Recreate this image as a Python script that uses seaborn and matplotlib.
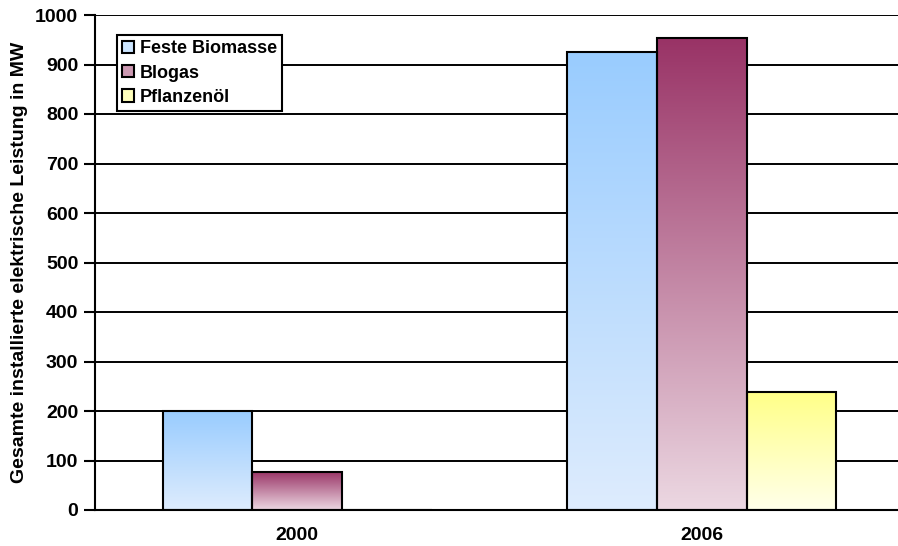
import numpy as np
import pandas as pd
import matplotlib
matplotlib.use("Agg")
import matplotlib.pyplot as plt
import matplotlib.patches as mpatches
from matplotlib.colors import to_rgba
import seaborn as sns

years = ["2000", "2006"]
types = ["Feste Biomasse", "Blogas", "Pflanzenöl"]
feste = [200, 925]
blogas = [77, 953]
pflanzen = [0, 238]
y_ticks = list(range(0, 1001, 100))
y_label = "Gesamte installierte elektrische Leistung in MW"

top_colors = ["#99ccff", "#993366", "#ffff88"]
bottom_colors = ["#deecfd", "#ecd8e2", "#ffffea"]
legend_colors = ["#cce5ff", "#cc99b2", "#ffffbb"]

df = pd.DataFrame({
    "Jahr": years * 3,
    "Typ": [types[0]] * 2 + [types[1]] * 2 + [types[2]] * 2,
    "MW": feste + blogas + pflanzen,
})

sns.set_style("white")
plt.rcParams["font.family"] = ["Liberation Sans", "DejaVu Sans"]
plt.rcParams["text.color"] = "black"
plt.rcParams["xtick.color"] = "black"
plt.rcParams["ytick.color"] = "black"
plt.rcParams["axes.labelcolor"] = "black"

fig = plt.figure(figsize=(8.98, 5.46), dpi=100)
ax = fig.add_axes([95 / 898, 1 - 510 / 546, 809 / 898, 495 / 546])

sns.barplot(data=df, x="Jahr", y="MW", hue="Typ", order=years, hue_order=types,
            palette=top_colors, width=0.665, edgecolor="black", linewidth=1.5,
            legend=False, ax=ax, zorder=3)

# gradients per bar
for p in ax.patches:
    h = p.get_height()
    if h <= 0:
        continue
    x0 = p.get_x()
    w = p.get_width()
    fc = p.get_facecolor()
    k = int(np.argmin([np.sum((np.array(to_rgba(c)) - np.array(fc)) ** 2) for c in top_colors]))
    top = np.array(to_rgba(top_colors[k]))
    bot = np.array(to_rgba(bottom_colors[k]))
    t = np.linspace(0, 1, 256)[:, None]
    grad = bot[None, :] * (1 - t) + top[None, :] * t
    img = grad[:, None, :]
    ax.imshow(img, extent=[x0, x0 + w, 0, h], origin="lower", aspect="auto",
              zorder=2.5, interpolation="bilinear")
    p.set_facecolor("none")
    p.set_zorder(3)

ax.set_xlim(-0.5, 1.5)
ax.set_ylim(0, 1000)
ax.set_yticks(y_ticks)
ax.set_yticklabels([str(v) for v in y_ticks], fontsize=14, fontweight="bold")
ax.set_xticks([-0.5, 0.5, 1.5])
ax.set_xticklabels(["", "", ""])
ax.set_xticks([0, 1], minor=True)
ax.set_xticklabels(years, minor=True, fontsize=14, fontweight="bold")
ax.tick_params(axis="x", which="major", direction="out", length=8, width=1.5, color="black")
ax.tick_params(axis="x", which="minor", length=0, pad=12)
ax.tick_params(axis="y", direction="out", length=8, width=1.5, color="black", pad=4, left=True)

ax.grid(axis="y", color="black", linewidth=1.4)
ax.set_axisbelow(True)
for s in ["top", "right"]:
    ax.spines[s].set_visible(False)
for s in ["left", "bottom"]:
    ax.spines[s].set_visible(True)
    ax.spines[s].set_color("black")
    ax.spines[s].set_linewidth(1.5)
ax.set_xlabel("")
ax.set_ylabel(y_label, fontsize=14, fontweight="bold", labelpad=5)

handles = [mpatches.Patch(facecolor=c, edgecolor="black", linewidth=1.5, label=l)
           for c, l in zip(legend_colors, types)]
leg = ax.legend(handles=handles, loc="upper left", bbox_to_anchor=(22 / 809, 1 - 20 / 495),
                frameon=True, fancybox=False, framealpha=1, edgecolor="black",
                prop={"size": 13, "weight": "bold"}, handlelength=0.65, handleheight=0.65,
                handletextpad=0.3, borderpad=0.3, labelspacing=0.4, borderaxespad=0)
leg.get_frame().set_linewidth(1.5)
leg.set_zorder(5)

fig.savefig("out.png", dpi=100)
